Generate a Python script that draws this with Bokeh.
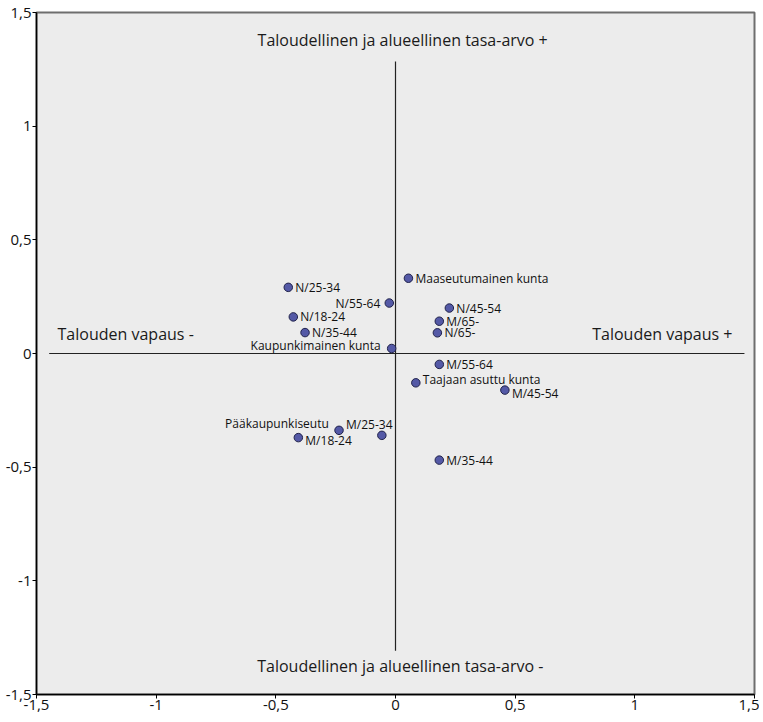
from bokeh.plotting import figure
from bokeh.models import ColumnDataSource, FixedTicker
from bokeh.core.properties import value
from bokeh.embed import file_html
from bokeh.resources import INLINE

# ---------------- data ----------------
names = ["N/25-34", "Maaseutumainen kunta", "N/55-64", "N/45-54", "N/18-24", "M/65-",
         "N/35-44", "N/65-", "Kaupunkimainen kunta", "M/55-64", "Taajaan asuttu kunta",
         "M/45-54", "M/25-34", "M/18-24", "Pääkaupunkiseutu", "M/35-44"]
dim1 = [-0.448, 0.054, -0.026, 0.225, -0.427, 0.183, -0.378, 0.175, -0.016, 0.183,
        0.085, 0.457, -0.236, -0.406, -0.057, 0.183]
dim2 = [0.291, 0.331, 0.222, 0.200, 0.161, 0.142, 0.092, 0.091, 0.022, -0.048,
        -0.129, -0.161, -0.338, -0.370, -0.360, -0.469]

tick_values = [-1.5, -1, -0.5, 0, 0.5, 1, 1.5]
tick_labels = ["-1,5", "-1", "-0,5", "0", "0,5", "1", "1,5"]

pole_texts = ["Taloudellinen ja alueellinen tasa-arvo +", "Taloudellinen ja alueellinen tasa-arvo -",
              "Talouden vapaus -", "Talouden vapaus +"]
pole_x = [0.03, 0.02, -1.412, 1.408]
pole_y = [1.38, -1.374, 0.086, 0.086]
pole_align = ["center", "center", "left", "right"]

cross_h = (-1.447, 1.458)   # extent of the horizontal reference line (y = 0)
cross_v = (-1.308, 1.284)   # extent of the vertical reference line (x = 0)

# label placement (screen px)
label_side = ["r", "r", "l", "r", "r", "r", "r", "r", "l", "r", "r", "r", "r", "r", "l", "r"]
label_dx = [7, 7, -9, 7, 7, 7, 7, 7, -11, 7, 7, 7, 7, 7, -53, 7]
label_dy = [0, 0, 0, 0, 0, 0, 0, 0, -3, 0, -3, 3, -6, 3, -12, 0]

FONT = "Open Sans"

p = figure(frame_width=718, frame_height=682, x_range=(-1.5, 1.5), y_range=(-1.5, 1.5),
           output_backend="svg", toolbar_location=None,
           min_border_top=12, min_border_right=5, min_border_left=36, min_border_bottom=0)
p.background_fill_color = "#ececec"
p.border_fill_color = "white"
p.outline_line_color = "#6e6e6e"
p.outline_line_width = 2
p.xgrid.visible = False
p.ygrid.visible = False

for ax in (p.xaxis[0], p.yaxis[0]):
    ax.ticker = FixedTicker(ticks=tick_values)
    ax.major_label_overrides = {v: l for v, l in zip(tick_values, tick_labels)}
    ax.axis_line_color = "black"
    ax.axis_line_width = 1.5
    ax.major_tick_line_color = "black"
    ax.major_tick_out = 4
    ax.major_tick_in = 0
    ax.minor_tick_line_color = None
    ax.major_label_text_font = FONT
    ax.major_label_text_font_size = "15px"
    ax.major_label_text_color = "#111111"
    ax.major_label_standoff = 1

# reference cross
p.segment(x0=[cross_h[0], 0], y0=[0, cross_v[0]], x1=[cross_h[1], 0], y1=[0, cross_v[1]],
          line_color="#222222", line_width=1.2)

# pole annotations
for t, x, y, a in zip(pole_texts, pole_x, pole_y, pole_align):
    p.text(x=[x], y=[y], text=[t], text_font=value(FONT), text_font_size="16px",
           text_align=a, text_baseline="middle", text_color="#1a1a1a")

# points
p.scatter(dim1, dim2, size=8.5, fill_color="#5459a6", line_color="#20224a", line_width=1)

# point labels
for side, align in (("r", "left"), ("l", "right")):
    idx = [i for i, s in enumerate(label_side) if s == side]
    src = ColumnDataSource(dict(
        x=[dim1[i] for i in idx], y=[dim2[i] for i in idx], t=[names[i] for i in idx],
        dx=[label_dx[i] for i in idx], dy=[label_dy[i] for i in idx]))
    p.text(x="x", y="y", text="t", x_offset="dx", y_offset="dy", source=src,
           text_font=value(FONT), text_font_size="12px", text_align=align,
           text_baseline="middle", text_color="#111111")

open("out.html", "w").write(file_html(p, INLINE))
